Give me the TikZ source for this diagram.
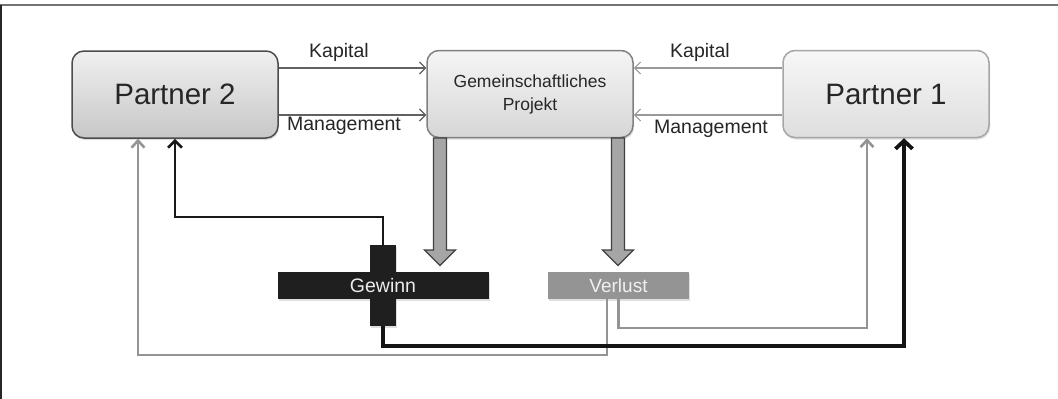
\documentclass[tikz,border=0pt]{standalone}
\usepackage{fontspec}
\setmainfont{Liberation Sans}
\usetikzlibrary{arrows.meta,shadows,calc}
\begin{document}
\begin{tikzpicture}[x=1pt,y=-1pt,
  pbox/.style={rectangle,rounded corners=12pt,line width=1.5pt,minimum width=206pt,minimum height=87pt,inner sep=0pt,
    drop shadow={opacity=0.25,shadow xshift=1pt,shadow yshift=-2pt}},
  thinarr/.style={line width=1.3pt,-{Straight Barb[length=6pt,width=12pt,line width=1.2pt]}},
  lbl/.style={font=\fontsize{19.5}{21}\selectfont,text=black!85,inner sep=0pt},
  grayln/.style={line width=2.6pt,draw=black!42,-{Straight Barb[length=7pt,width=13pt,line width=2.6pt]}},
  blackln/.style={line width=2.7pt,draw=black!90,-{Straight Barb[length=7pt,width=14pt,line width=2.8pt]}},
  blackthick/.style={line width=3.6pt,draw=black!92,-{Straight Barb[length=8pt,width=17pt,line width=3.8pt]}},
  bar/.style={rectangle,inner sep=0pt,drop shadow={opacity=0.25,shadow xshift=1pt,shadow yshift=-2pt}},
  blockarr/.style={fill=black!35,draw=black!75,line width=1.3pt,line join=miter}
]
\useasboundingbox (0,0) rectangle (1058,399);
\fill[white] (0,0) rectangle (1058,399);
% frame
\draw[line width=2pt,black!55] (0,5) -- (1058,5);
\draw[line width=2pt,black!85] (1,5) -- (1,399);

% boxes
\node[pbox,draw=black!70,top color=black!6,bottom color=black!22] (p2) at (175,94.5)
  {\fontsize{29.5}{32}\selectfont\textcolor{black!85}{Partner 2}};
\node[pbox,draw=black!50,top color=black!4,bottom color=black!16] (proj) at (530,94)
  {\fontsize{17.5}{24}\selectfont\begin{tabular}{@{}c@{}}\textcolor{black!85}{Gemeinschaftliches}\\[-1pt]\textcolor{black!85}{Projekt}\end{tabular}};
\node[pbox,draw=black!35,top color=black!3,bottom color=black!13] (p1) at (886,94)
  {\fontsize{29.5}{32}\selectfont\textcolor{black!85}{Partner 1}};

% thin arrows
\draw[thinarr,black!62] ([yshift=26.5pt]p2.east) -- ([yshift=26pt]proj.west);
\draw[thinarr,black!62] ([yshift=-20.5pt]p2.east) -- ([yshift=-21pt]proj.west);
\draw[thinarr,black!40] ([yshift=26pt]p1.west) -- ([yshift=26pt]proj.east);
\draw[thinarr,black!40] ([yshift=-21pt]p1.west) -- ([yshift=-21pt]proj.east);
\node[lbl] (k1) at (339,52) {Kapital};
\node[lbl] (m1) at (344,126) {Management};
\node[lbl] (k2) at (700,52) {Kapital};
\node[lbl] (m2) at (711,129) {Management};

% Gewinn cross
\node[bar,fill=black!88,minimum width=26pt,minimum height=81pt] (gv) at (383,285.5) {};
\node[bar,fill=black!88,minimum width=211pt,minimum height=27pt] (gh) at (383.5,285.5) {};
\fill[black!88] (370,245) rectangle (396,326);
\node[text=white!92!black,font=\fontsize{19.5}{22}\selectfont,inner sep=0pt] (gtext) at (383,286) {Gewinn};

% Verlust
\node[bar,fill=black!42,minimum width=141pt,minimum height=27pt,font=\fontsize{19}{22}\selectfont,text=black!6] (verl) at (618.5,285.5) {Verlust};

% block arrows
\draw[blockarr] (433.5,138) -- (433.5,250) -- (424.5,250) -- (440,265.5) -- (455.5,250) -- (446.5,250) -- (446.5,138) -- cycle;
\draw[blockarr] (611.5,138) -- (611.5,250) -- (602.5,250) -- (618,265.5) -- (633.5,250) -- (624.5,250) -- (624.5,138) -- cycle;

% return connectors
\coordinate (g2) at (138,355);
\coordinate (b1) at (175,217);
\coordinate (g1) at (867,328);
\coordinate (b2) at (904,346);
\draw[grayln] ([xshift=-11.5pt]verl.south) |- (g2) -- (g2 |- p2.south);
\draw[grayln] (verl.south) |- (g1) -- (g1 |- p1.south);
\draw[blackln] (gv.north) |- (b1) -- (b1 |- p2.south);
\draw[blackthick] (gv.south) |- (b2) -- (b2 |- p1.south);
\end{tikzpicture}
\end{document}
